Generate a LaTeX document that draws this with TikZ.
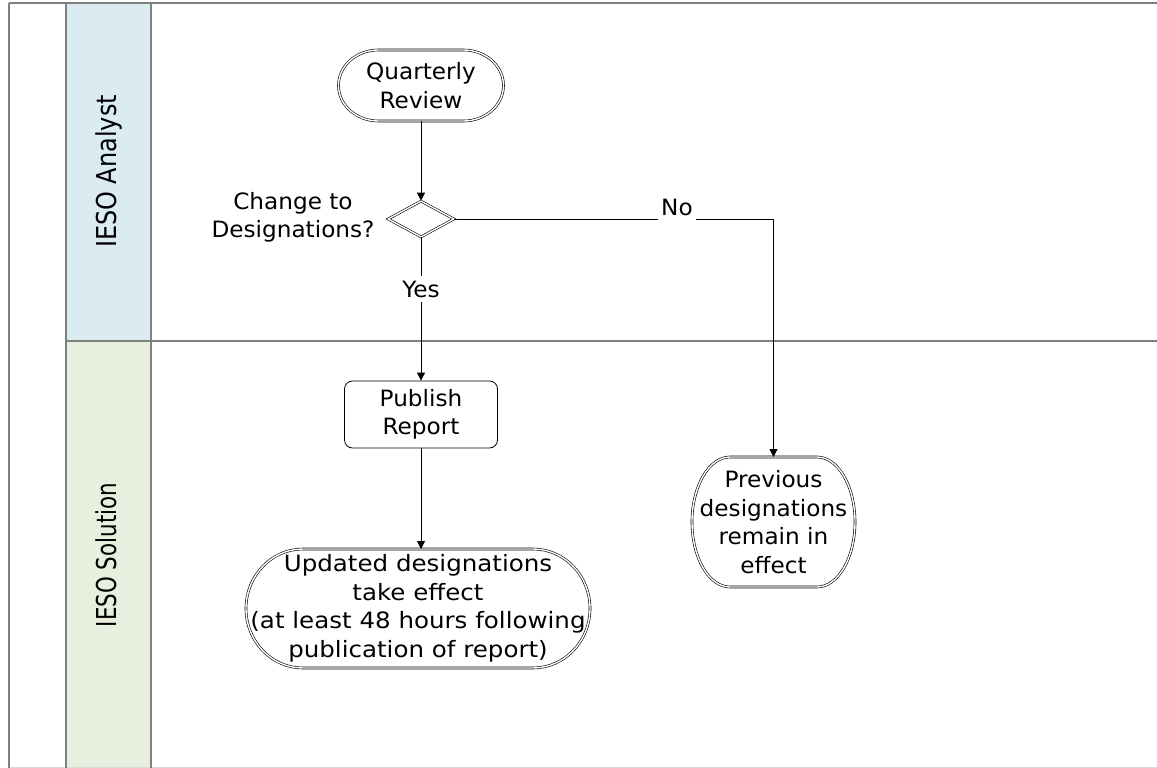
\documentclass[tikz,border=0pt]{standalone}
\usepackage{fontspec}
\setmainfont{DejaVu Sans}[FakeStretch=1.03]
\newfontfamily\updfont{DejaVu Sans}[FakeStretch=1.09]
\newfontfamily\laneAfont{DejaVu Sans}[FakeStretch=0.875]
\newfontfamily\laneBfont{DejaVu Sans}[FakeStretch=0.78]
\usetikzlibrary{shapes.geometric,arrows.meta}

\definecolor{framegray}{RGB}{128,128,128}
\definecolor{laneblue}{RGB}{218,235,242}
\definecolor{lanegreen}{RGB}{232,239,223}

% stadium outline with elliptic ends around a named node: #1 node, #2 end x-radius, #3 half height
\newcommand\stadiumoutline[3]{%
  \draw[dbl] ([xshift=#2]#1.north west) -- ([xshift=-#2]#1.north east)
    arc[start angle=90,end angle=-90,x radius=#2,y radius=#3]
    -- ([xshift=#2]#1.south west)
    arc[start angle=270,end angle=90,x radius=#2,y radius=#3] -- cycle;}

\begin{document}
\begin{tikzpicture}[x=1pt,y=-1pt,
  every node/.style={font=\fontsize{22.5}{28.5}\selectfont, text=black},
  frame/.style={draw=framegray, line width=1.6pt},
  txtnode/.style={align=center, inner sep=0pt, outer sep=0pt},
  dbl/.style={draw=black, double=white, double distance=1.4pt, line width=0.6pt},
  flow/.style={draw=black, line width=0.8pt, -{Triangle[length=8pt,width=8pt]}},
  lbl/.style={fill=white, inner xsep=3pt, inner ysep=5pt},
  lanelbl/.style={rotate=90, anchor=base, inner sep=0pt, font=\fontsize{27.4}{30}\selectfont},
  taskbox/.style={draw=black, line width=0.8pt, rounded corners=8pt, align=center,
    minimum width=153pt, minimum height=67pt, inner sep=0pt}]

\useasboundingbox (0,0) rectangle (1157,768);

% swimlane headers
\fill[laneblue] (66,3) rectangle (151,341);
\fill[lanegreen] (66,341) rectangle (151,768);

% pool frame and lane separators
\draw[draw=black!15, line width=1pt] (9,767.5) -- (1157,767.5);
\draw[frame] (9,3) -- (1157,3);
\draw[frame] (9,3) -- (9,768);
\draw[frame] (66,3) -- (66,768);
\draw[frame] (151,3) -- (151,768);
\draw[frame] (66,341) -- (1157,341);

% lane titles
\node[lanelbl] (laneA) at (116.7,171.5) {\laneAfont IESO Analyst};
\node[lanelbl] (laneB) at (116.7,555) {\laneBfont IESO Solution};

% flow elements
\node[txtnode, minimum width=165pt, minimum height=71pt] (qr) at (421,85.5) {Quarterly\\Review};
\stadiumoutline{qr}{40pt}{35.5pt}

\node[diamond, dbl, aspect=1.8, minimum width=66pt, minimum height=36pt, inner sep=0pt] (dec) at (421,219) {};
\node[txtnode] (q) at (293,217.5) {Change to\\Designations?};

\node[taskbox] (pub) at (421,414.5) {Publish\\Report};

\node[txtnode, minimum width=344pt, minimum height=119pt] (upd) at (418,608.5)
  {\updfont Updated designations\\\updfont take effect\\\updfont (at least 48 hours following\\\updfont publication of report)};
\stadiumoutline{upd}{57pt}{59.5pt}

\node[txtnode, minimum width=163pt, minimum height=130pt] (prev) at (773.5,522)
  {Previous\\designations\\remain in\\effect};
\stadiumoutline{prev}{38pt}{65pt}

% connectors
\draw[flow] (qr.south) -- (dec.north);
\draw[flow] (dec.south) -- (pub.north);
\draw[flow] (dec.east) -| (prev.north);
\draw[flow] (pub.south) -- (pub.south |- upd.north);

% branch labels
\node[lbl] (yes) at (421,289) {Yes};
\node[lbl] (no) at (677,207.5) {No};

\end{tikzpicture}
\end{document}
